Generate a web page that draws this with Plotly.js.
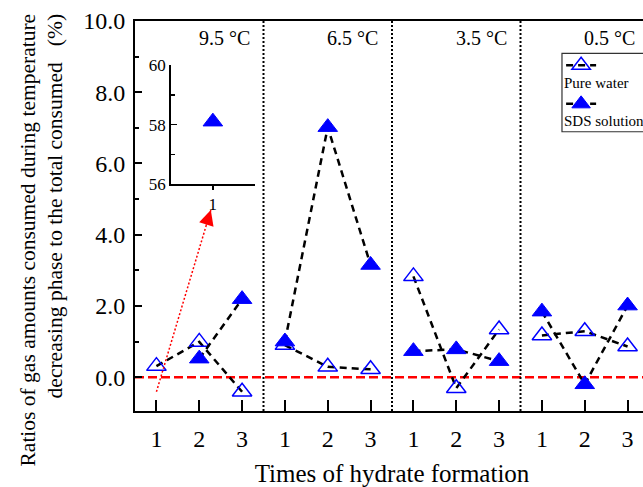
<!DOCTYPE html>
<html>
<head>
<meta charset="utf-8">
<script src="https://cdn.plot.ly/plotly-3.0.1.min.js"></script>
<style>
html, body { margin: 0; padding: 0; overflow: hidden; background: #fff; }
#chart { width: 649px; height: 487px; }
</style>
</head>
<body>
<div id="chart"></div>
<script>
// ---- data ----
const timeLabels = ['1', '2', '3'];
const temperatures = ['9.5 °C', '6.5 °C', '3.5 °C', '0.5 °C'];
const seriesNames = ['Pure water', 'SDS solution'];
const pureWater   = [0.31, 0.99, -0.41, 0.90, 0.29, 0.22, 2.83, -0.31, 1.34, 1.17, 1.29, 0.86];
const sdsSolution = [58.1, 0.52, 2.19, 1.00, 7.02, 3.15, 0.73, 0.78, 0.45, 1.84, -0.20, 2.01];
const mainYMax = 10;
const xTitle = 'Times of hydrate formation';
const yTitleLines = ['Ratios of gas amounts consumed during temperature',
                     'decreasing phase to the total consumed &nbsp;&nbsp;(%)'];

// ---- build traces ----
const nT = timeLabels.length;
function buildSeries(values) {
  const xs = [], ys = [];
  temperatures.forEach((temp, g) => {
    for (let t = 0; t < nT; t++) {
      const i = g * nT + t;
      xs.push(i + 1);
      ys.push(values[i] > mainYMax ? null : values[i]);
    }
    xs.push(null); ys.push(null);
  });
  return {xs, ys};
}
const pw = buildSeries(pureWater);
const sds = buildSeries(sdsSolution);

const insetX = [], insetY = [];
sdsSolution.forEach((v, i) => { if (v > mainYMax) { insetX.push((i % nT) + 1); insetY.push(v); } });

const BLUE = '#0000ff';
const lineStyle = {color: '#000', width: 2.5, dash: '7px,5px'};
const traces = [
  {x: pw.xs, y: pw.ys, type: 'scatter', mode: 'lines+markers', name: '', legendgroup: 'pw',
   connectgaps: false, line: lineStyle,
   marker: {symbol: 'triangle-up-open', size: 17, color: BLUE, line: {color: BLUE, width: 1.5}},
   hovertemplate: seriesNames[0] + ': %{y}<extra></extra>'},
  {x: sds.xs, y: sds.ys, type: 'scatter', mode: 'lines+markers', name: '', legendgroup: 'sds',
   connectgaps: false, line: lineStyle,
   marker: {symbol: 'triangle-up', size: 17, color: BLUE, line: {color: BLUE, width: 1}},
   hovertemplate: seriesNames[1] + ': %{y}<extra></extra>'},
  {x: insetX, y: insetY, type: 'scatter', mode: 'markers', xaxis: 'x2', yaxis: 'y2', showlegend: false,
   marker: {symbol: 'triangle-up', size: 17, color: BLUE, line: {color: BLUE, width: 1}},
   hovertemplate: seriesNames[1] + ': %{y}<extra></extra>'}
];

const tickvals = [], ticktext = [];
temperatures.forEach((temp, g) => timeLabels.forEach((lab, t) => { tickvals.push(g * nT + t + 1); ticktext.push(lab); }));

const FONT = '"Liberation Serif", "Times New Roman", serif';
const shapes = [];
// zero reference line
shapes.push({type: 'line', xref: 'paper', x0: 0, x1: 1, yref: 'y', y0: 0, y1: 0, layer: 'below',
             line: {color: '#ff0000', width: 2.5, dash: '9px,4px'}});
// group separators
for (let g = 1; g < temperatures.length; g++) {
  shapes.push({type: 'line', xref: 'x', x0: g * nT + 0.5, x1: g * nT + 0.5, yref: 'paper', y0: 0, y1: 1, layer: 'below',
               line: {color: '#000', width: 2, dash: '2px,2px'}});
}
// dotted pointer from the off-scale point to the inset
shapes.push({type: 'line', xref: 'x', yref: 'y', x0: 1, y0: -0.41, x1: 2.27, y1: 4.69,
             line: {color: '#ff0000', width: 1.5, dash: '2px,2px'}});
// legend frame
shapes.push({type: 'rect', xref: 'paper', yref: 'paper', x0: 0.8307, x1: 1.2, y0: 0.716, y1: 0.917,
             line: {color: '#333', width: 1.2}, fillcolor: 'rgba(0,0,0,0)'});

const annotations = [];
temperatures.forEach((temp, g) => {
  annotations.push({text: temp, xref: 'x', x: (g + 1) * nT + 0.5, xanchor: 'right', xshift: -12,
                    yref: 'paper', y: 0.9564, yanchor: 'middle', showarrow: false, font: {size: 20, family: FONT}});
});
annotations.push({text: seriesNames[0], xref: 'paper', x: 0.8307, xanchor: 'left', yref: 'paper', y: 0.8403, yanchor: 'middle',
                  showarrow: false, font: {size: 15, family: FONT}});
annotations.push({text: seriesNames[1], xref: 'paper', x: 0.8307, xanchor: 'left', yref: 'paper', y: 0.7444, yanchor: 'middle',
                  showarrow: false, font: {size: 15, family: FONT}});
annotations.push({text: '', xref: 'x', yref: 'y', x: 2.27, y: 4.69, showarrow: true, arrowhead: 2, arrowsize: 2,
                  arrowwidth: 1.5, arrowcolor: '#ff0000', ax: -5, ay: 16});
// y-axis title (two lines, rotated)
annotations.push({text: yTitleLines.join('<br>'), xref: 'paper', x: -0.1819, xanchor: 'center',
                  yref: 'paper', y: 0.4385, yanchor: 'middle', textangle: -90, align: 'right', showarrow: false,
                  font: {size: 21.5, family: FONT}});

const layout = {
  width: 649, height: 487,
  margin: {l: 135, r: 0, t: 21, b: 76},
  paper_bgcolor: '#fff', plot_bgcolor: '#fff',
  font: {family: FONT, color: '#000'},
  showlegend: true,
  legend: {x: 0.829, xanchor: 'left', y: 0.928, yanchor: 'top', bgcolor: 'rgba(0,0,0,0)', borderwidth: 0,
           tracegroupgap: 16, font: {size: 15, family: FONT}, itemwidth: 30},
  xaxis: {range: [0.5, 12.5], tickvals: tickvals, ticktext: ticktext, ticks: 'inside', ticklen: 11, tickwidth: 2,
          tickcolor: '#000', showline: true, linewidth: 2, linecolor: '#000', mirror: true, showgrid: false,
          zeroline: false, tickfont: {size: 24, family: FONT}, ticklabelstandoff: 5,
          title: {text: xTitle, font: {size: 25, family: FONT}}},
  yaxis: {range: [-0.95, 10], tick0: 0, dtick: 2, tickformat: '.1f', ticks: 'inside', ticklen: 7, tickwidth: 2,
          tickcolor: '#000', minor: {dtick: 1, ticks: 'inside', ticklen: 4, tickwidth: 2, tickcolor: '#000'},
          showline: true, linewidth: 2, linecolor: '#000', mirror: true, showgrid: false, zeroline: false,
          tickfont: {size: 24, family: FONT}, ticklabelstandoff: 3},
  xaxis2: {domain: [0.0695, 0.2335], anchor: 'y2', range: [0.5, 1.5], tickvals: [1], ticktext: ['1'],
           ticks: 'outside', ticklen: 4, tickwidth: 1.5, tickcolor: '#000', showline: true, linewidth: 1.5,
           linecolor: '#000', showgrid: false, zeroline: false, tickfont: {size: 17, family: FONT}},
  yaxis2: {domain: [0.5813, 0.8872], anchor: 'x2', range: [56, 60], tick0: 56, dtick: 2, ticks: 'inside', ticklen: 6,
           tickwidth: 1.5, tickcolor: '#000', minor: {dtick: 1, ticks: 'inside', ticklen: 4, tickwidth: 1.5, tickcolor: '#000'},
           showline: true, linewidth: 1.5, linecolor: '#000', showgrid: false, zeroline: false,
           tickfont: {size: 17, family: FONT}},
  shapes: shapes,
  annotations: annotations
};

Plotly.newPlot('chart', traces, layout, {displayModeBar: false, staticPlot: true});
</script>
</body>
</html>
